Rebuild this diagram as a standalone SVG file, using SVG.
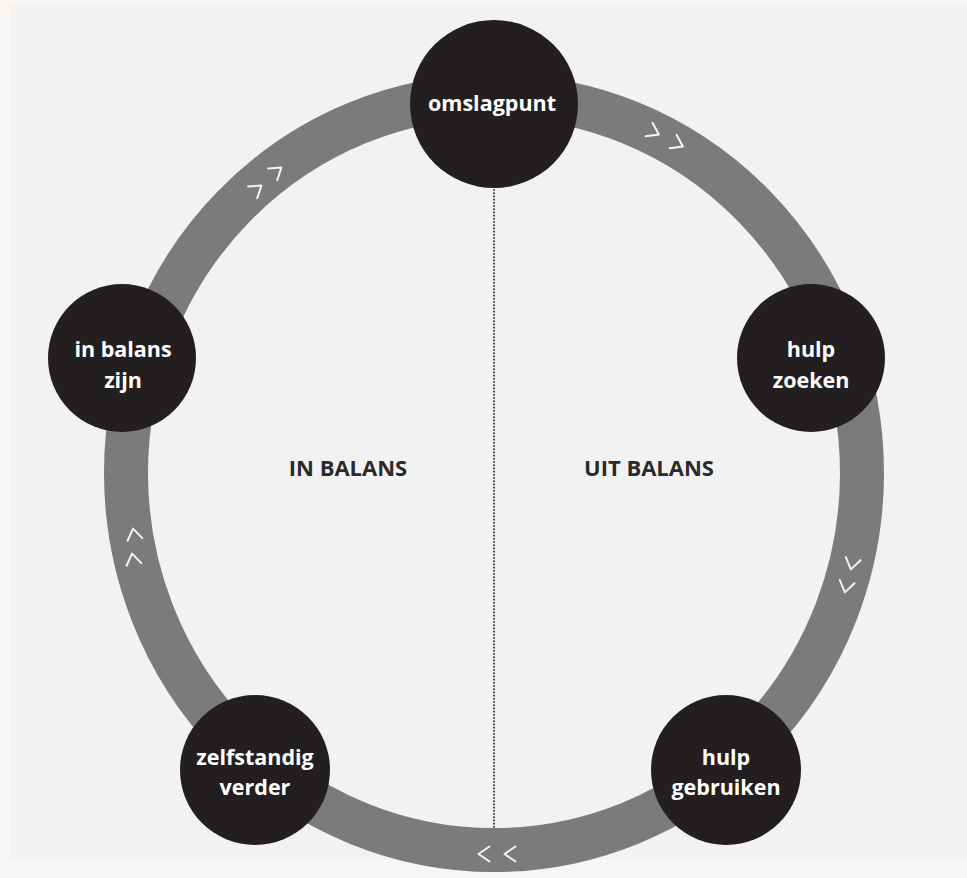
<svg xmlns="http://www.w3.org/2000/svg" width="967" height="878" viewBox="0 0 967 878">
  <defs>
    <style>
      .node circle { fill: #231f20; }
      .node text { fill: #ffffff; font-family: "Open Sans", "DejaVu Sans", sans-serif; font-weight: 700; font-size: 21.5px; text-anchor: middle; }
      .section { fill: #2a2a2a; font-family: "Open Sans", "DejaVu Sans", sans-serif; font-weight: 700; font-size: 22px; text-anchor: middle; }
      .chev { fill: none; stroke: #f4f4f4; stroke-width: 2; stroke-linecap: round; stroke-linejoin: round; }
    </style>
    <polyline id="chev" class="chev" points="-5.5,-7.5 5.5,0 -5.5,7.5"/>
  </defs>
  <rect x="0" y="0" width="967" height="878" fill="#f8f5f3"/>
  <rect x="10" y="5" width="957" height="855" fill="#f2f2f2"/>
  <rect x="10" y="860" width="957" height="18" fill="#f6f6f6"/>

  <g id="connectors">
    <ellipse cx="494" cy="473" rx="368" ry="377" fill="none" stroke="#7b7b7c" stroke-width="44"/>
    <line x1="494" y1="186" x2="494" y2="829" stroke="#111" stroke-width="1.6" stroke-dasharray="1.6,1.6"/>
    <use href="#chev" transform="translate(654,132) rotate(27)"/>
    <use href="#chev" transform="translate(678,144) rotate(27)"/>
    <use href="#chev" transform="translate(852,564) rotate(102)"/>
    <use href="#chev" transform="translate(846,587) rotate(102)"/>
    <use href="#chev" transform="translate(484,854) rotate(180)"/>
    <use href="#chev" transform="translate(510,854) rotate(180)"/>
    <use href="#chev" transform="translate(133,559) rotate(-100)"/>
    <use href="#chev" transform="translate(134,534) rotate(-100)"/>
    <use href="#chev" transform="translate(257,189) rotate(-38)"/>
    <use href="#chev" transform="translate(277,171) rotate(-38)"/>
  </g>

  <text class="section" x="348" y="476">IN BALANS</text>
  <text class="section" x="649" y="476">UIT BALANS</text>

  <g id="node-omslagpunt" class="node">
    <circle cx="494" cy="104" r="84"/>
    <text x="492" y="111">omslagpunt</text>
  </g>
  <g id="node-in-balans-zijn" class="node">
    <circle cx="122" cy="358" r="74"/>
    <text x="123" y="357">in balans</text>
    <text x="123" y="388">zijn</text>
  </g>
  <g id="node-hulp-zoeken" class="node">
    <circle cx="811" cy="358" r="74"/>
    <text x="811" y="357">hulp</text>
    <text x="811" y="388">zoeken</text>
  </g>
  <g id="node-hulp-gebruiken" class="node">
    <circle cx="726" cy="770" r="75"/>
    <text x="726" y="765">hulp</text>
    <text x="726" y="795">gebruiken</text>
  </g>
  <g id="node-zelfstandig-verder" class="node">
    <circle cx="255" cy="770" r="75"/>
    <text x="255" y="765">zelfstandig</text>
    <text x="255" y="795">verder</text>
  </g>
</svg>
